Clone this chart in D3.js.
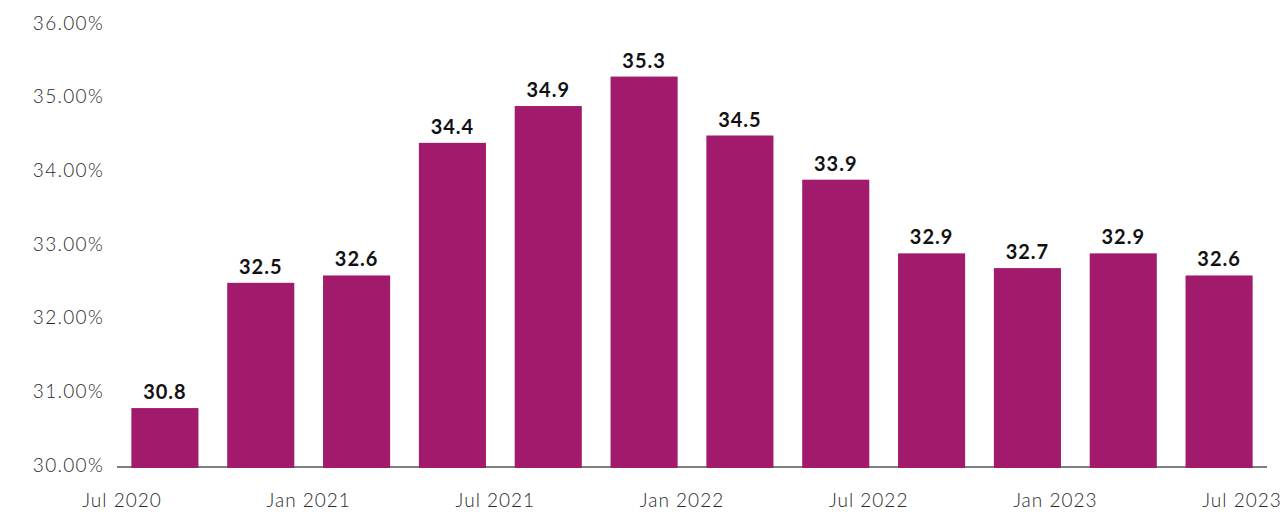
<!DOCTYPE html>
<html><head><meta charset="utf-8">
<script src="https://cdn.jsdelivr.net/npm/d3@7"></script>
<style>body{margin:0;background:#fff}svg{display:block}</style>
</head><body><svg id="c" width="1287" height="512"></svg>
<script>
const periods = ["2020-07","2020-10","2021-01","2021-04","2021-07","2021-10","2022-01","2022-04","2022-07","2022-10","2023-01","2023-04"];
const values = [30.8,32.5,32.6,34.4,34.9,35.3,34.5,33.9,32.9,32.7,32.9,32.6];
const yTicks = [30,31,32,33,34,35,36];
const xTickLabels = ["Jul 2020","Jan 2021","Jul 2021","Jan 2022","Jul 2022","Jan 2023","Jul 2023"];

const svg = d3.select("#c");
const x = d3.scaleBand().domain(periods).range([117,1267]).paddingInner(0.3).paddingOuter(0.15);
const y = d3.scaleLinear().domain([30,36]).range([467,25]);
const xl = d3.scalePoint().domain(xTickLabels).range([122,1242]);

const font = "Lato, 'Open Sans', sans-serif";

svg.append("g").selectAll("text").data(yTicks).join("text")
  .attr("x",104).attr("y",d=>y(d)-2).attr("dy","0.35em")
  .attr("text-anchor","end").attr("font-family",font).attr("font-weight",300)
  .attr("font-size",19).attr("letter-spacing","1.3px").attr("fill","#2a2a2a")
  .text(d=>d3.format(".2f")(d)+"%");

svg.append("line").attr("x1",117).attr("x2",1267).attr("y1",y(30)).attr("y2",y(30))
  .attr("stroke","#808080").attr("stroke-width",2);

svg.append("g").selectAll("rect").data(values).join("rect")
  .attr("x",(d,i)=>x(periods[i])).attr("width",x.bandwidth())
  .attr("y",d=>y(d)).attr("height",d=>y(30)-y(d)+1)
  .attr("fill","#A21A6C");

svg.append("g").selectAll("text").data(values).join("text")
  .attr("x",(d,i)=>x(periods[i])+x.bandwidth()/2).attr("y",d=>y(d)-9)
  .attr("text-anchor","middle").attr("font-family",font).attr("font-weight",700)
  .attr("font-size",20).attr("letter-spacing","1px").attr("fill","#111")
  .text(d=>d.toFixed(1));

svg.append("g").selectAll("text").data(xTickLabels).join("text")
  .attr("x",d=>xl(d)).attr("y",500).attr("dy","0.35em")
  .attr("text-anchor","middle").attr("font-family",font).attr("font-weight",300)
  .attr("font-size",19).attr("letter-spacing","1px").attr("fill","#2a2a2a")
  .text(d=>d);
</script></body></html>
